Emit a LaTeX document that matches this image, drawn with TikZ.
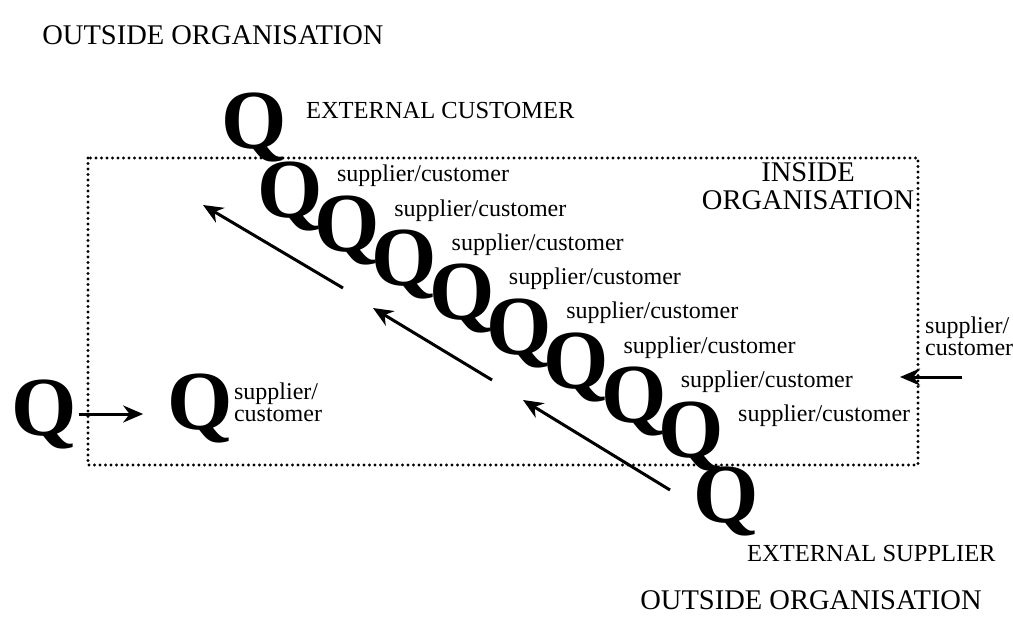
\documentclass[tikz,border=0pt]{standalone}
\usepackage{fontspec}
\setmainfont{Liberation Serif}
\usepackage{tikz}
\usetikzlibrary{arrows.meta, positioning}
\tikzstyle{bigq} = [font=\fontsize{84}{84}\selectfont\bfseries, inner sep=0pt]
\tikzstyle{role} = [font=\fontsize{24}{24}\selectfont, inner sep=0pt]
\tikzstyle{twoline} = [inner sep=0pt, align=left, font=\fontsize{24}{22}\selectfont]
\tikzstyle{caps} = [font=\fontsize{24.5}{24.5}\selectfont, inner sep=0pt]
\tikzstyle{outside} = [font=\fontsize{28.5}{28.5}\selectfont, inner sep=0pt]
\tikzstyle{flow} = [line width=3pt, -{Stealth[length=20pt, width=17pt]}]
\tikzstyle{boundary} = [line width=3.2pt, line cap=round, dash pattern=on 0pt off 5.5pt]
\begin{document}
\begin{tikzpicture}[x=1pt, y=-1pt, node distance=0pt]
\useasboundingbox (0,0) rectangle (1013,624);
\node (top) [outside] at (213,35) {OUTSIDE ORGANISATION};
\node (bottom) [outside] at (811,600) {OUTSIDE ORGANISATION};
\draw[boundary] (88,158) rectangle (918,465);
\node (inside) [outside, align=center] at (808,186) {INSIDE\\ORGANISATION};
\node (qtop) [bigq] at (254,127) {Q};
\node (q1) [bigq] at (290,196) {Q};
\node (q2) [bigq, below of=q1, xshift=57.3pt, yshift=-34.3pt] {Q};
\node (q3) [bigq, below of=q2, xshift=57.3pt, yshift=-34.3pt] {Q};
\node (q4) [bigq, below of=q3, xshift=57.3pt, yshift=-34.3pt] {Q};
\node (q5) [bigq, below of=q4, xshift=57.3pt, yshift=-34.3pt] {Q};
\node (q6) [bigq, below of=q5, xshift=57.3pt, yshift=-34.3pt] {Q};
\node (q7) [bigq, below of=q6, xshift=57.3pt, yshift=-34.3pt] {Q};
\node (q8) [bigq, below of=q7, xshift=57.3pt, yshift=-34.3pt] {Q};
\node (qbot) [bigq, below of=q8, xshift=35pt, yshift=-65pt] {Q};
\node (extcust) [caps, right=19pt of qtop, yshift=16pt] {EXTERNAL CUSTOMER};
\node (extsup) [caps, right=-12pt of qbot, yshift=-52pt] {EXTERNAL SUPPLIER};
\node (l1) [role, right=14pt of q1, yshift=20pt] {supplier/customer};
\node (l2) [role, right=14pt of q2, yshift=20pt] {supplier/customer};
\node (l3) [role, right=14pt of q3, yshift=20pt] {supplier/customer};
\node (l4) [role, right=14pt of q4, yshift=20pt] {supplier/customer};
\node (l5) [role, right=14pt of q5, yshift=20pt] {supplier/customer};
\node (l6) [role, right=14pt of q6, yshift=20pt] {supplier/customer};
\node (l7) [role, right=14pt of q7, yshift=20pt] {supplier/customer};
\node (l8) [role, right=14pt of q8, yshift=20pt] {supplier/customer};
\coordinate (a1s) at (343,288);
\coordinate (a1e) at (203,205);
\coordinate (a2s) at (492,380);
\coordinate (a2e) at (373,308);
\coordinate (a3s) at (670,490);
\coordinate (a3e) at (523,400);
\draw[flow] (a1s) -- (a1e);
\draw[flow] (a2s) -- (a2e);
\draw[flow] (a3s) -- (a3e);
\node (q0) [bigq] at (44,414) {Q};
\node (qin) [bigq] at (200,408) {Q};
\node (lin) [twoline, right=1pt of qin, yshift=6pt] {supplier/\\customer};
\draw[flow, shorten <=2pt, shorten >=24pt] (q0.east) -- (q0.east -| qin.west);
\node (lout) [twoline, anchor=west] at (925,336) {supplier/\\customer};
\coordinate (rfrom) at (962,377);
\coordinate (rto) at (900,377);
\draw[flow] (rfrom) -- (rto);
\end{tikzpicture}
\end{document}
